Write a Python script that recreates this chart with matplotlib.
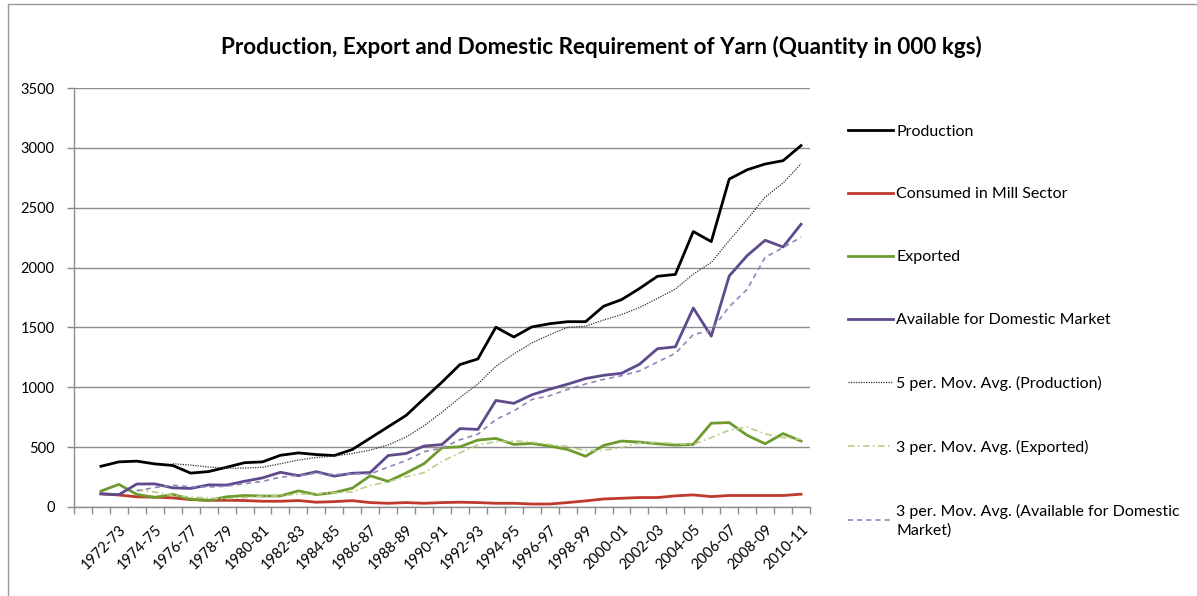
import matplotlib
matplotlib.use('Agg')
import matplotlib.pyplot as plt
from matplotlib.lines import Line2D
import numpy as np
import pandas as pd

plt.rcParams['font.family'] = ['Lato', 'DejaVu Sans']

# category slots: the first one is left empty, data runs 1971-72 .. 2010-11
years = [''] + [f"{y}-{(y + 1) % 100:02d}" for y in range(1971, 2011)]

# quantities in 000 kgs
production = [340, 377, 383, 360, 347, 283, 296, 332, 370, 377,
              432, 452, 438, 430, 480, 575, 670, 765, 905, 1043,
              1190, 1237, 1502, 1420, 1504, 1531, 1548, 1548, 1677, 1732,
              1825, 1927, 1943, 2301, 2217, 2739, 2817, 2865, 2893, 3019]
mill_sector = [110, 100, 85, 82, 76, 62, 56, 56, 54, 48,
               48, 54, 40, 45, 53, 37, 31, 37, 31, 37,
               40, 37, 31, 31, 25, 25, 37, 51, 67, 73,
               79, 79, 93, 101, 87, 96, 96, 96, 96, 107]
exported = [133, 189, 105, 80, 105, 65, 55, 85, 96, 92,
            92, 135, 103, 121, 157, 261, 214, 284, 362, 495,
            503, 559, 573, 523, 531, 509, 480, 424, 514, 551,
            542, 528, 517, 523, 700, 705, 599, 528, 613, 551]
domestic = [110, 103, 192, 193, 160, 155, 185, 183, 215, 243,
            290, 262, 295, 258, 282, 288, 430, 447, 509, 522,
            655, 648, 890, 866, 937, 984, 1026, 1073, 1100, 1117,
            1192, 1322, 1338, 1662, 1427, 1930, 2100, 2228, 2172, 2362]

labels = ['Production', 'Consumed in Mill Sector', 'Exported',
          'Available for Domestic Market', '5 per. Mov. Avg. (Production)',
          '3 per. Mov. Avg. (Exported)',
          '3 per. Mov. Avg. (Available for Domestic\nMarket)']

W, H = 1197, 596
fig = plt.figure(figsize=(W / 100, H / 100), dpi=100)
ax = fig.add_axes([74 / W, 1 - 507 / H, 736 / W, 419 / H])

x = np.arange(1, len(years))
lw = 2.0
ax.plot(x, production, color='black', lw=lw, label=labels[0], zorder=3)
ax.plot(x, mill_sector, color='#c0392f', lw=lw, label=labels[1], zorder=3)
ax.plot(x, exported, color='#6f9a2e', lw=lw, label=labels[2], zorder=3)
ax.plot(x, domestic, color='#5e4a8c', lw=lw, label=labels[3], zorder=3)

# moving-average trendlines
ma_prod = pd.Series(production).rolling(5).mean()
ma_exp = pd.Series(exported).rolling(3).mean()
ma_dom = pd.Series(domestic).rolling(3).mean()
ax.plot(x, ma_prod, color='#333333', lw=0.9, ls=(0, (1, 1)), label=labels[4], zorder=4)
ax.plot(x, ma_exp, color='#b9cf86', lw=1.2, ls=(0, (4, 2, 1, 2)), label=labels[5], zorder=4)
ax.plot(x, ma_dom, color='#8f86b8', lw=1.2, ls=(0, (3, 2.5)), label=labels[6], zorder=4)

ax.set_xlim(-0.5, len(years) - 0.5)
ax.set_ylim(0, 3500)
ax.set_yticks(np.arange(0, 3501, 500))
ax.yaxis.grid(True, color='#8c8c8c', lw=1.0)
ax.set_axisbelow(True)

# ticks between categories, labels on every second category
ax.set_xticks(np.arange(-0.5, len(years)))
ax.set_xticklabels([])
ax.set_xticks(np.arange(0, len(years), 2), minor=True)
ax.set_xticklabels(years[0::2], minor=True, rotation=45, ha='right',
                   rotation_mode='anchor', fontsize=10.5)
ax.tick_params(axis='x', which='major', length=5, color='#8c8c8c', width=1)
ax.tick_params(axis='x', which='minor', length=0, pad=11)
ax.tick_params(axis='y', length=5, color='#8c8c8c', width=1, labelsize=10.5, pad=9)

for side in ['top', 'right']:
    ax.spines[side].set_visible(False)
for side in ['left', 'bottom']:
    ax.spines[side].set_color('#8c8c8c')
    ax.spines[side].set_linewidth(1.0)

fig.text(0.502, 1 - 47 / H,
         'Production, Export and Domestic Requirement of Yarn (Quantity in 000 kgs)',
         ha='center', va='center', fontsize=16.2, fontweight='bold')

leg = fig.legend(loc='upper left', bbox_to_anchor=(834 / W, 1 - 110 / H),
                 frameon=False, fontsize=11.5, handlelength=2.8, handletextpad=0.2,
                 labelspacing=3.05)
leg.get_texts()[-1].set_linespacing(1.4)

# chart frame
fig.add_artist(Line2D([8 / W, 1], [1 - 4 / H, 1 - 4 / H], color='#9a9a9a', lw=1))
fig.add_artist(Line2D([8 / W, 8 / W], [0, 1 - 4 / H], color='#9a9a9a', lw=1))

fig.savefig('out.png', dpi=100)
